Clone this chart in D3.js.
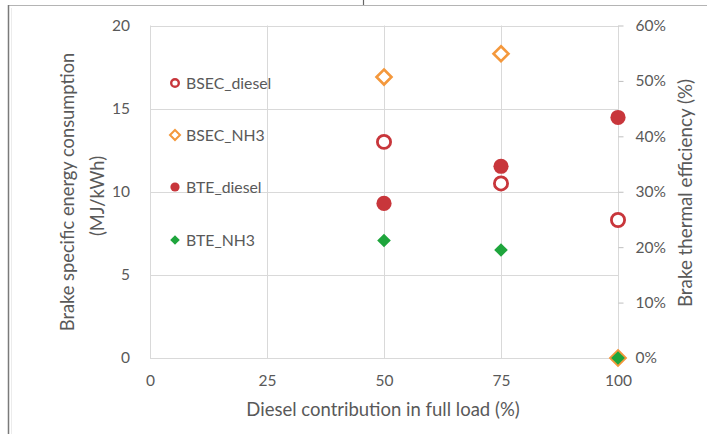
<!DOCTYPE html>
<html>
<head>
<meta charset="utf-8">
<script src="https://cdn.jsdelivr.net/npm/d3@7/dist/d3.min.js"></script>
<style>
  html, body { margin: 0; padding: 0; background: #fff; }
  svg { display: block; }
  text { font-family: Lato, "Open Sans", sans-serif; fill: #595959; }
</style>
</head>
<body>
<svg id="chart" width="707" height="434"></svg>
<script>
// Diesel contribution in full load (%)
const dieselShare = [50, 75, 100];

// Brake specific energy consumption (MJ/kWh), left axis
const bsecDiesel = [13.0, 10.5, 8.3];
const bsecNH3 = [16.9, 18.3, 0];

// Brake thermal efficiency (fraction), right axis
const bteDiesel = [0.279, 0.346, 0.434];
const bteNH3 = [0.212, 0.195, 0];

// Axis ticks
const xTicks = [0, 25, 50, 75, 100];
const leftTicks = [0, 5, 10, 15, 20];
const rightTicks = [0, 0.1, 0.2, 0.3, 0.4, 0.5, 0.6];

const seriesNames = ["BSEC_diesel", "BSEC_NH3", "BTE_diesel", "BTE_NH3"];

const RED = "#c8363b", ORANGE = "#f4983c", GREEN = "#1ea53c";
const GRID = "#d9d9d9";

const svg = d3.select("#chart");

// outer frame
svg.append("line").attr("x1", 8).attr("x2", 707).attr("y1", 5.5).attr("y2", 5.5)
  .attr("stroke", "#b4b4b4").attr("stroke-width", 1.2);
svg.append("line").attr("x1", 8.5).attr("x2", 8.5).attr("y1", 5).attr("y2", 434)
  .attr("stroke", "#7a7a7a").attr("stroke-width", 1.5);
svg.append("line").attr("x1", 363.5).attr("x2", 363.5).attr("y1", 0).attr("y2", 5)
  .attr("stroke", "#666").attr("stroke-width", 1.2);
svg.append("line").attr("x1", 11.5).attr("x2", 11.5).attr("y1", 8).attr("y2", 434)
  .attr("stroke", "#ececec").attr("stroke-width", 1);

const x = d3.scaleLinear().domain([0, 100]).range([150, 618]);
const yL = d3.scaleLinear().domain([0, 20]).range([358, 25.5]);
const yR = d3.scaleLinear().domain([0, 0.6]).range([358, 25.5]);

// gridlines
const grid = svg.append("g");
grid.selectAll("line.h").data(leftTicks).join("line")
  .attr("x1", x(0)).attr("x2", x(100))
  .attr("y1", d => Math.round(yL(d)) + 0.5).attr("y2", d => Math.round(yL(d)) + 0.5)
  .attr("stroke", GRID).attr("stroke-width", 1);
grid.selectAll("line.v").data(xTicks).join("line")
  .attr("x1", d => Math.round(x(d)) + 0.5).attr("x2", d => Math.round(x(d)) + 0.5)
  .attr("y1", yL(20)).attr("y2", yL(0))
  .attr("stroke", GRID).attr("stroke-width", 1);

// left axis
const leftAxis = d3.axisLeft(yL).tickValues(leftTicks).tickSize(0).tickPadding(20);
const gL = svg.append("g").attr("transform", `translate(${x(0)},0)`).call(leftAxis);
gL.select(".domain").remove();
gL.selectAll("text").style("font-size", "15.5px").attr("fill", "#595959");

// right axis
const rightAxis = d3.axisRight(yR).tickValues(rightTicks).tickSize(5).tickPadding(12)
  .tickFormat(d3.format(".0%"));
const gR = svg.append("g").attr("transform", `translate(${Math.round(x(100)) + 0.5},0)`).call(rightAxis);
gR.select(".domain").remove();
gR.selectAll("line").attr("stroke", "#bfbfbf");
gR.selectAll("text").style("font-size", "15.5px").attr("fill", "#595959");

// bottom axis
const bottomAxis = d3.axisBottom(x).tickValues(xTicks).tickSize(0).tickPadding(17);
const gB = svg.append("g").attr("transform", `translate(0,${yL(0)})`).call(bottomAxis);
gB.select(".domain").remove();
gB.selectAll("text").style("font-size", "15.5px").attr("fill", "#595959");

// axis titles
svg.append("text").attr("x", 383).attr("y", 416).attr("text-anchor", "middle")
  .style("font-size", "18.5px").text("Diesel contribution in full load (%)");
svg.append("text").attr("transform", "translate(73.5,192) rotate(-90)").attr("text-anchor", "middle")
  .style("font-size", "18.3px").text("Brake specific energy consumption");
svg.append("text").attr("transform", "translate(103.5,196) rotate(-90)").attr("text-anchor", "middle")
  .style("font-size", "18.3px").text("(MJ/kWh)");
svg.append("text").attr("transform", "translate(691.5,193) rotate(-90)").attr("text-anchor", "middle")
  .style("font-size", "18.8px").text("Brake thermal efficiency (%)");

// symbol helpers
const diamond = s => `M0,${-s}L${s},0L0,${s}L${-s},0Z`;

const marks = svg.append("g");

// BSEC_NH3: open orange diamonds
marks.selectAll("path.bsecNH3").data(dieselShare.map((d, i) => [d, bsecNH3[i]])).join("path")
  .attr("d", diamond(7.5))
  .attr("transform", d => `translate(${x(d[0])},${yL(d[1])})`)
  .attr("fill", "#fff").attr("stroke", ORANGE).attr("stroke-width", 2.6);

// BSEC_diesel: open red circles
marks.selectAll("circle.bsecD").data(dieselShare.map((d, i) => [d, bsecDiesel[i]])).join("circle")
  .attr("cx", d => x(d[0])).attr("cy", d => yL(d[1])).attr("r", 6.6)
  .attr("fill", "#fff").attr("stroke", RED).attr("stroke-width", 2.8);

// BTE_diesel: filled red circles
marks.selectAll("circle.bteD").data(dieselShare.map((d, i) => [d, bteDiesel[i]])).join("circle")
  .attr("cx", d => x(d[0])).attr("cy", d => yR(d[1])).attr("r", 7.6)
  .attr("fill", RED);

// BTE_NH3: filled green diamonds
marks.selectAll("path.bteNH3").data(dieselShare.map((d, i) => [d, bteNH3[i]])).join("path")
  .attr("d", diamond(6.8))
  .attr("transform", d => `translate(${x(d[0])},${yR(d[1])})`)
  .attr("fill", GREEN);

// legend
const legendY = [83, 135, 187, 240];
const lg = svg.append("g");
seriesNames.forEach((name, i) => {
  const cy = legendY[i], cx = 175;
  if (i === 0) {
    lg.append("circle").attr("cx", cx).attr("cy", cy).attr("r", 3.8)
      .attr("fill", "#fff").attr("stroke", RED).attr("stroke-width", 2.4);
  } else if (i === 1) {
    lg.append("path").attr("d", diamond(5)).attr("transform", `translate(${cx},${cy})`)
      .attr("fill", "#fff").attr("stroke", ORANGE).attr("stroke-width", 2);
  } else if (i === 2) {
    lg.append("circle").attr("cx", cx).attr("cy", cy).attr("r", 4.6).attr("fill", RED);
  } else {
    lg.append("path").attr("d", diamond(4.8)).attr("transform", `translate(${cx},${cy})`)
      .attr("fill", GREEN);
  }
  lg.append("text").attr("x", 186).attr("y", cy + 5.5).style("font-size", "15.8px").text(name);
});
</script>
</body>
</html>
